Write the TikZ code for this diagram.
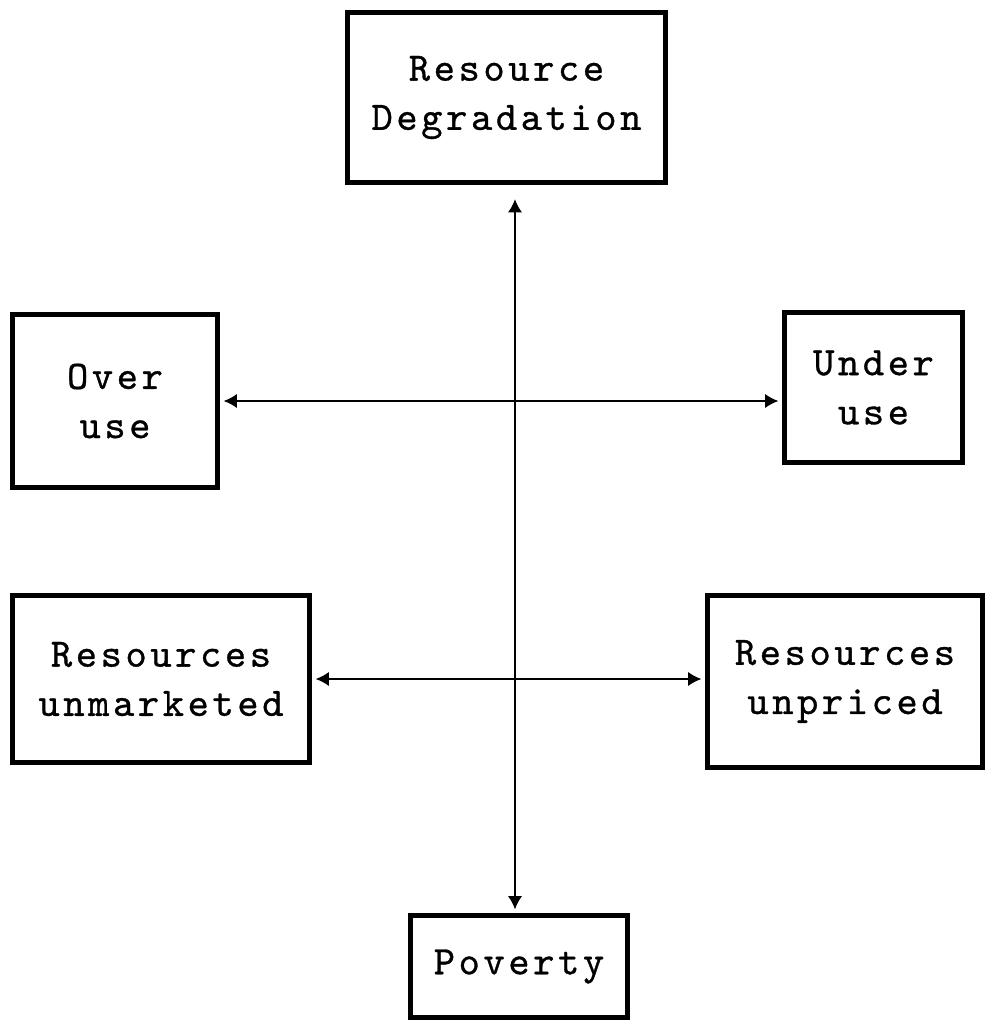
\documentclass[tikz,border=0pt]{standalone}
\usepackage{fontspec}
\setmonofont{lmmono10-regular.otf}[LetterSpace=9,FakeBold=0.8]
\usepackage{tikz}
\usetikzlibrary{arrows.meta}

\begin{document}
\begin{tikzpicture}[scale=1,
		cell/.style={draw, line width=3pt, align=center, font=\ttfamily\fontsize{23}{28}\selectfont, inner sep=0pt},
		link/.style={line width=0.8pt, {Latex[length=7.5pt,width=8pt]}-{Latex[length=7.5pt,width=8pt]}, shorten <=2pt, shorten >=2pt}]
		\useasboundingbox (0,0) rectangle (19.72,-20.52);
		\node [cell, minimum width=6.36cm, minimum height=3.4cm] (deg) at (10.13,-1.95) {Resource\\Degradation};
		\node [cell, minimum width=4.1cm, minimum height=3.46cm] (over) at (2.3,-8.02) {Over\\use};
		\node [cell, minimum width=3.56cm, minimum height=3.0cm] (under) at (17.47,-7.75) {Under\\use};
		\node [cell, minimum width=5.94cm, minimum height=3.34cm] (unmk) at (3.22,-13.58) {Resources\\unmarketed};
		\node [cell, minimum width=5.5cm, minimum height=3.44cm] (unpr) at (16.9,-13.63) {Resources\\unpriced};
		\node [cell, minimum width=4.34cm, minimum height=2.04cm] (pov) at (10.38,-19.33) {Poverty};
		%vertical axis sits a little left of the Poverty box centre
		\coordinate (axis) at (10.3,-10);
		\draw [link, shorten <=8pt] (deg.south -| axis)--(pov.north -| axis);
		\draw [link] (over.east)--(under.west |- over.east);
		\draw [link] (unmk.east)--(unpr.west |- unmk.east);
	\end{tikzpicture}
\end{document}
